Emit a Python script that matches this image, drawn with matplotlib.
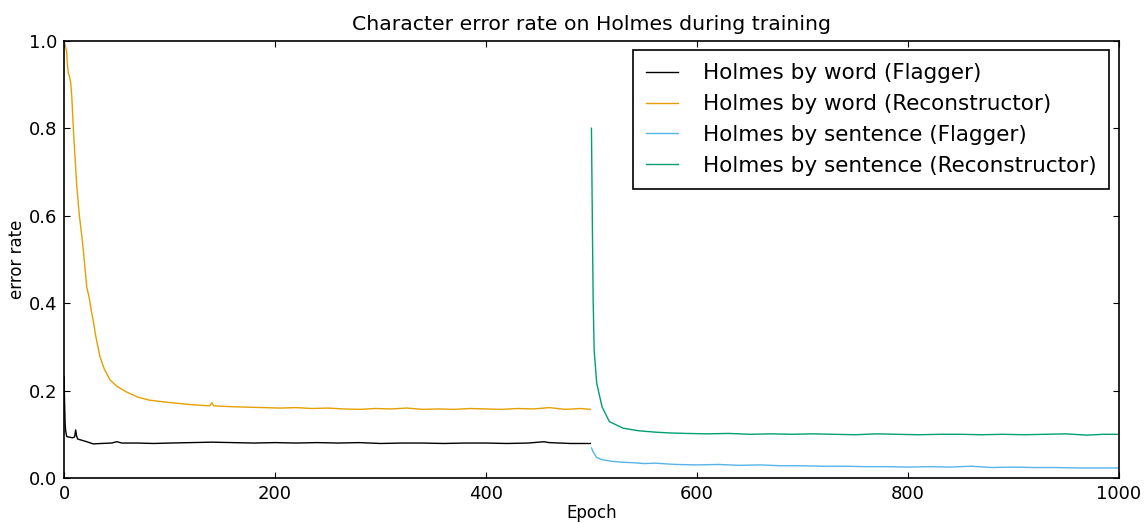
import matplotlib
matplotlib.use("Agg")
import matplotlib.pyplot as plt

# Holmes by word (Flagger)
word_flag_x = [0, 0.5, 1, 1.5, 2.5, 4, 6, 8, 10, 11, 12, 13, 16, 21.5, 27.7, 35, 45, 50, 55, 70,
               85, 100, 120, 140, 160, 180, 200, 220, 240, 260, 280, 300, 320, 340, 360, 380,
               400, 420, 440, 455, 460, 480, 499]
word_flag_y = [0.232, 0.17, 0.125, 0.108, 0.095, 0.094, 0.093, 0.092, 0.094, 0.110, 0.095, 0.089,
               0.087, 0.083, 0.078, 0.079, 0.080, 0.083, 0.080, 0.080, 0.079, 0.080, 0.081,
               0.082, 0.081, 0.080, 0.081, 0.080, 0.081, 0.080, 0.081, 0.079, 0.080, 0.080,
               0.079, 0.080, 0.080, 0.079, 0.080, 0.083, 0.081, 0.079, 0.079]

# Holmes by word (Reconstructor)
word_rec_x = [0, 1, 2.5, 3, 4, 5, 6.3, 7.3, 8.8, 10.5, 12, 14.5, 16.7, 18.3, 21.5, 24, 26, 28,
              30, 34, 38, 43.6, 50, 59, 70, 81, 95, 107, 120, 138, 140, 142, 160, 175, 190,
              205, 220, 235, 250, 265, 280, 295, 310, 325, 340, 355, 370, 385, 400, 415, 430,
              445, 460, 475, 490, 499]
word_rec_y = [1.00, 0.99, 0.975, 0.95, 0.926, 0.92, 0.904, 0.873, 0.80, 0.73, 0.67, 0.60, 0.556,
              0.52, 0.437, 0.41, 0.38, 0.355, 0.325, 0.278, 0.25, 0.224, 0.21, 0.197, 0.185,
              0.178, 0.174, 0.171, 0.168, 0.165, 0.172, 0.165, 0.163, 0.162, 0.161, 0.160,
              0.161, 0.159, 0.160, 0.158, 0.157, 0.159, 0.158, 0.160, 0.157, 0.158, 0.157,
              0.159, 0.158, 0.157, 0.159, 0.158, 0.161, 0.157, 0.159, 0.157]

# Holmes by sentence (Flagger)
sent_flag_x = [500, 502, 505, 510, 515, 520, 530, 540, 550, 560, 580, 600, 620, 640, 660, 680,
               700, 720, 740, 760, 780, 800, 820, 840, 860, 880, 900, 920, 940, 960, 980, 1000]
sent_flag_y = [0.069, 0.058, 0.047, 0.042, 0.040, 0.038, 0.036, 0.035, 0.033, 0.034, 0.031,
               0.030, 0.031, 0.029, 0.030, 0.028, 0.028, 0.027, 0.027, 0.026, 0.026, 0.025,
               0.026, 0.025, 0.027, 0.024, 0.025, 0.024, 0.024, 0.023, 0.023, 0.023]

# Holmes by sentence (Reconstructor)
sent_rec_x = [500, 501, 501.6, 502.6, 505, 510, 517, 530, 545, 560, 575, 590, 610, 630, 650,
              670, 690, 710, 730, 750, 770, 790, 810, 830, 850, 870, 890, 910, 930, 950, 970,
              985, 1000]
sent_rec_y = [0.80, 0.55, 0.41, 0.29, 0.217, 0.163, 0.129, 0.114, 0.108, 0.105, 0.103, 0.102,
              0.101, 0.102, 0.100, 0.101, 0.100, 0.101, 0.100, 0.099, 0.101, 0.100, 0.099,
              0.100, 0.100, 0.099, 0.100, 0.099, 0.100, 0.101, 0.098, 0.100, 0.100]

fig = plt.figure(figsize=(11.44, 5.23), dpi=100)
ax = fig.add_axes([0.056, 0.086, 0.922, 0.836])

ax.plot(word_flag_x, word_flag_y, color="#000000", lw=1.0, label="Holmes by word (Flagger)")
ax.plot(word_rec_x, word_rec_y, color="#E69F00", lw=1.0, label="Holmes by word (Reconstructor)")
ax.plot(sent_flag_x, sent_flag_y, color="#56B4E9", lw=1.0, label="Holmes by sentence (Flagger)")
ax.plot(sent_rec_x, sent_rec_y, color="#009E73", lw=1.0, label="Holmes by sentence (Reconstructor)")

ax.set_xlim(0, 1000)
ax.set_ylim(0, 1.0)
ax.set_xticks([0, 200, 400, 600, 800, 1000])
ax.set_yticks([0.0, 0.2, 0.4, 0.6, 0.8, 1.0])
ax.tick_params(direction="in", top=True, right=True, labelsize=13, length=4, pad=5)
for s in ax.spines.values():
    s.set_linewidth(1.2)

ax.set_title("Character error rate on Holmes during training", fontsize=14.7, pad=8)
ax.set_xlabel("Epoch", fontsize=12, labelpad=1)
ax.set_ylabel("error rate", fontsize=12, labelpad=2)

leg = ax.legend(loc="upper right", fontsize=15.5, fancybox=False, framealpha=1,
                edgecolor="black", handlelength=1.5, handletextpad=1.15, borderpad=0.6,
                borderaxespad=0.45)
leg.get_frame().set_linewidth(1.2)

fig.savefig("out.png", dpi=100)
